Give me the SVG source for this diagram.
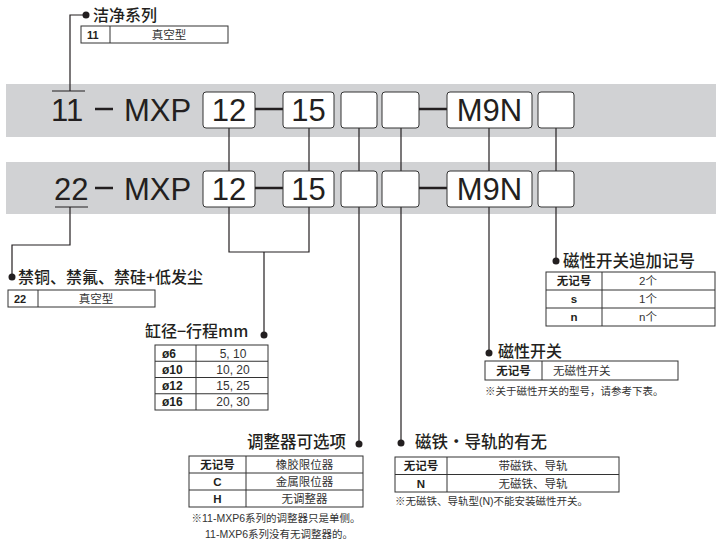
<svg xmlns="http://www.w3.org/2000/svg" width="716" height="541" viewBox="0 0 716 541">
<style>
.band{fill:#d1d2d4}
.box{fill:#fff;stroke:#333;stroke-width:1}
.big{font-family:"Liberation Sans",Arial,sans-serif;font-size:31px;fill:#231f20}
.bigc{font-family:"Liberation Sans",Arial,sans-serif;font-size:31px;fill:#231f20;text-anchor:middle}
.dash{stroke:#231f20;stroke-width:2.5}
.ln{fill:none;stroke:#231f20;stroke-width:1.2}
.dot{fill:#231f20}
.title{font-family:"Noto Sans CJK SC","Noto Sans",sans-serif;font-size:16px;font-weight:500;fill:#231f20}
.tb{fill:#fff;stroke:#333;stroke-width:1}
.tl{stroke:#333;stroke-width:1}
.t{font-family:"Liberation Sans","Noto Sans CJK SC",sans-serif;font-size:11.5px;fill:#333;text-anchor:middle}
.ts{font-family:"Liberation Sans","Noto Sans CJK SC",sans-serif;font-size:11.5px;fill:#333}
.tk{font-family:"Liberation Sans","Noto Sans CJK SC",sans-serif;font-size:11.5px;font-weight:bold;fill:#231f20;text-anchor:middle}
.tkl{font-family:"Liberation Sans","Noto Sans CJK SC",sans-serif;font-size:12px;font-weight:bold;fill:#231f20}
.note{font-family:"Liberation Sans","Noto Sans CJK SC",sans-serif;font-size:10.5px;fill:#333}
.notec{font-family:"Liberation Sans","Noto Sans CJK SC",sans-serif;font-size:10.5px;fill:#333;text-anchor:middle}
</style>

<rect class="band" x="6" y="84" width="710" height="53"/>
<rect class="band" x="6" y="162" width="710" height="52"/>

<g id="connectors">
  <polyline class="ln" points="85,15 70,15 70,91"/>
  <line class="ln" x1="52" y1="91" x2="85" y2="91"/>
  <line class="ln" x1="229" y1="128" x2="229" y2="171"/>
  <line class="ln" x1="309" y1="128" x2="309" y2="171"/>
  <line class="ln" x1="359" y1="128" x2="359" y2="171"/>
  <line class="ln" x1="401" y1="128" x2="401" y2="171"/>
  <line class="ln" x1="489" y1="128" x2="489" y2="171"/>
  <line class="ln" x1="556" y1="128" x2="556" y2="171"/>
  <line class="ln" x1="55" y1="207" x2="88" y2="207"/>
  <polyline class="ln" points="70,207 70,245 12,245 12,277"/>
  <polyline class="ln" points="229,207 229,252 309,252 309,207"/>
  <line class="ln" x1="264" y1="252" x2="264" y2="335"/>
  <line class="ln" x1="359" y1="207" x2="359" y2="444"/>
  <line class="ln" x1="401" y1="207" x2="401" y2="443"/>
  <line class="ln" x1="489" y1="207" x2="489" y2="353"/>
  <line class="ln" x1="556" y1="207" x2="556" y2="261"/>
  <circle class="dot" cx="86" cy="15" r="3.5"/>
  <circle class="dot" cx="12" cy="277" r="3.5"/>
  <circle class="dot" cx="264" cy="335" r="3.5"/>
  <circle class="dot" cx="359" cy="444" r="3.5"/>
  <circle class="dot" cx="401" cy="443" r="3.5"/>
  <circle class="dot" cx="489" cy="353" r="3.5"/>
  <circle class="dot" cx="556" cy="261" r="3.5"/>
</g>

<g id="row1">
  <text class="big" x="51" y="121">11</text>
  <line class="dash" x1="95" y1="109" x2="113" y2="109"/>
  <text class="big" x="124" y="121">MXP</text>
  <rect class="box" x="203" y="92" width="52" height="36" rx="3"/>
  <text class="bigc" x="229" y="121">12</text>
  <line class="dash" x1="255" y1="109" x2="283" y2="109"/>
  <rect class="box" x="283" y="92" width="51" height="36" rx="3"/>
  <text class="bigc" x="308.5" y="121">15</text>
  <rect class="box" x="341" y="92" width="36" height="36" rx="3"/>
  <rect class="box" x="382" y="92" width="37" height="36" rx="3"/>
  <line class="dash" x1="419" y1="109" x2="447" y2="109"/>
  <rect class="box" x="447" y="92" width="85" height="36" rx="3"/>
  <text class="bigc" x="489.5" y="121">M9N</text>
  <rect class="box" x="538" y="92" width="36" height="36" rx="3"/>
</g>

<g id="row2">
  <text class="big" x="54" y="200">22</text>
  <line class="dash" x1="95" y1="188" x2="113" y2="188"/>
  <text class="big" x="124" y="200">MXP</text>
  <rect class="box" x="203" y="171" width="52" height="36" rx="3"/>
  <text class="bigc" x="229" y="200">12</text>
  <line class="dash" x1="255" y1="188" x2="283" y2="188"/>
  <rect class="box" x="283" y="171" width="51" height="36" rx="3"/>
  <text class="bigc" x="308.5" y="200">15</text>
  <rect class="box" x="341" y="171" width="36" height="36" rx="3"/>
  <rect class="box" x="382" y="171" width="37" height="36" rx="3"/>
  <line class="dash" x1="419" y1="188" x2="447" y2="188"/>
  <rect class="box" x="447" y="171" width="85" height="36" rx="3"/>
  <text class="bigc" x="489.5" y="200">M9N</text>
  <rect class="box" x="538" y="171" width="36" height="36" rx="3"/>
</g>

<g id="clean-series">
  <text class="title" x="93" y="21">洁净系列</text>
  <rect class="tb" x="81" y="26" width="147" height="17"/>
  <line class="tl" x1="110" y1="26" x2="110" y2="43"/>
  <text class="tkl" x="87" y="39" style="font-size:11px">11</text>
  <text class="t" x="169" y="39">真空型</text>
</g>

<g id="copper-free">
  <text class="title" x="18" y="283">禁铜、禁氟、禁硅+低发尘</text>
  <rect class="tb" x="8" y="290" width="147" height="17"/>
  <line class="tl" x1="38" y1="290" x2="38" y2="307"/>
  <text class="tkl" x="14" y="303" style="font-size:11px">22</text>
  <text class="t" x="96" y="303">真空型</text>
</g>

<g id="bore-stroke">
  <text class="title" x="145" y="337">缸径−行程mm</text>
  <rect class="tb" x="155" y="345" width="113" height="65"/>
  <line class="tl" x1="155" y1="361.25" x2="268" y2="361.25"/>
  <line class="tl" x1="155" y1="377.5" x2="268" y2="377.5"/>
  <line class="tl" x1="155" y1="393.75" x2="268" y2="393.75"/>
  <line class="tl" x1="196" y1="345" x2="196" y2="410"/>
  <text class="tkl" x="162" y="357.5">ø6</text>
  <text class="tkl" x="162" y="373.5">ø10</text>
  <text class="tkl" x="162" y="390">ø12</text>
  <text class="tkl" x="162" y="406">ø16</text>
  <text class="t" x="233" y="357.5" style="font-size:12px">5, 10</text>
  <text class="t" x="233" y="373.5" style="font-size:12px">10, 20</text>
  <text class="t" x="233" y="390" style="font-size:12px">15, 25</text>
  <text class="t" x="233" y="406" style="font-size:12px">20, 30</text>
</g>

<g id="adjuster">
  <text class="title" x="247" y="448" style="font-size:16.5px">调整器可选项</text>
  <rect class="tb" x="189" y="456" width="174" height="51"/>
  <line class="tl" x1="189" y1="473" x2="363" y2="473"/>
  <line class="tl" x1="189" y1="490" x2="363" y2="490"/>
  <line class="tl" x1="246" y1="456" x2="246" y2="507"/>
  <text class="tk" x="217.5" y="469">无记号</text>
  <text class="tk" x="217.5" y="486">C</text>
  <text class="tk" x="217.5" y="503">H</text>
  <text class="t" x="304.5" y="469">橡胶限位器</text>
  <text class="t" x="304.5" y="486">金属限位器</text>
  <text class="t" x="304.5" y="503">无调整器</text>
  <text class="notec" x="276" y="522">※11-MXP6系列的调整器只是单侧。</text>
  <text class="notec" x="279" y="538">11-MXP6系列没有无调整器的。</text>
</g>

<g id="magnet-rail">
  <text class="title" x="415" y="448" style="font-size:16.5px">磁铁・导轨的有无</text>
  <rect class="tb" x="395" y="457" width="224" height="35"/>
  <line class="tl" x1="395" y1="474.5" x2="619" y2="474.5"/>
  <line class="tl" x1="447" y1="457" x2="447" y2="492"/>
  <text class="tk" x="421" y="470">无记号</text>
  <text class="tk" x="421" y="488">N</text>
  <text class="t" x="533" y="470">带磁铁、导轨</text>
  <text class="t" x="533" y="488">无磁铁、导轨</text>
  <text class="note" x="395" y="505">※无磁铁、导轨型(N)不能安装磁性开关。</text>
</g>

<g id="auto-switch">
  <text class="title" x="498" y="357">磁性开关</text>
  <rect class="tb" x="485" y="361" width="193" height="19"/>
  <line class="tl" x1="542" y1="361" x2="542" y2="380"/>
  <text class="tk" x="513.5" y="375">无记号</text>
  <text class="ts" x="553" y="375">无磁性开关</text>
  <text class="note" x="485" y="395">※关于磁性开关的型号，请参考下表。</text>
</g>

<g id="switch-qty">
  <text class="title" x="563" y="267" style="font-size:16.5px">磁性开关追加记号</text>
  <rect class="tb" x="546" y="272" width="169" height="54"/>
  <line class="tl" x1="546" y1="290" x2="715" y2="290"/>
  <line class="tl" x1="546" y1="308" x2="715" y2="308"/>
  <line class="tl" x1="602" y1="272" x2="602" y2="326"/>
  <text class="tk" x="574" y="285">无记号</text>
  <text class="tk" x="574" y="303">s</text>
  <text class="tk" x="574" y="321">n</text>
  <text class="t" x="648" y="285">2个</text>
  <text class="t" x="648" y="303">1个</text>
  <text class="t" x="648" y="321">n个</text>
</g>
</svg>
